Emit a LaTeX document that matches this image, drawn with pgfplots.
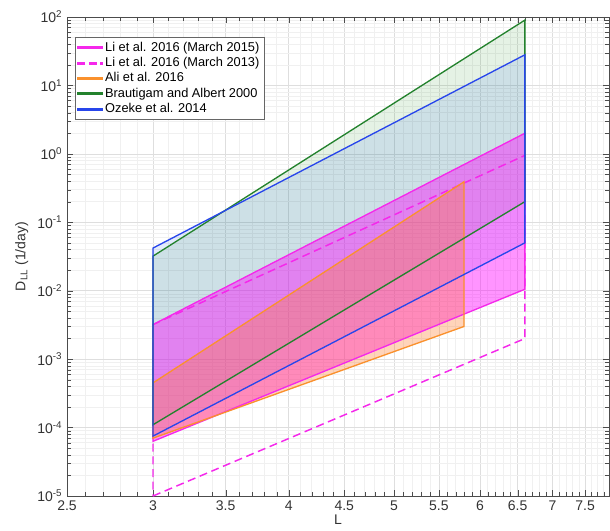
\documentclass[border=0pt]{standalone}
\usepackage{pgfplots}
\pgfplotsset{compat=1.18}
\usepackage{fontspec}
\setmainfont{Liberation Sans}
\definecolor{cmag}{RGB}{245,40,235}
\definecolor{cora}{RGB}{250,145,45}
\definecolor{cgre}{RGB}{35,130,45}
\definecolor{cblu}{RGB}{40,70,235}
\definecolor{fmag}{RGB}{255,0,255}
\definecolor{fora}{RGB}{255,120,40}
\definecolor{fgre}{RGB}{0,128,0}
\definecolor{fblu}{RGB}{70,120,235}
\begin{document}
\begin{tikzpicture}
\begin{loglogaxis}[
 scale only axis, width=406.5pt, height=359.25pt,
 xmin=2.5, xmax=7.89, ymin=1e-5, ymax=1e2,
 xtick={2.5,3,3.5,4,4.5,5,5.5,6,6.5,7,7.5},
 xticklabels={2.5,3,3.5,4,4.5,5,5.5,6,6.5,7,7.5},
 ytick={1e-5,1e-4,1e-3,1e-2,1e-1,1,10,100},
 yticklabels={10\textsuperscript{-5},10\textsuperscript{-4},10\textsuperscript{-3},10\textsuperscript{-2},10\textsuperscript{-1},10\textsuperscript{0},10\textsuperscript{1},10\textsuperscript{2}},
 minor xtick={2.6,2.7,2.8,2.9,3.1,3.2,3.3,3.4,3.6,3.7,3.8,3.9,4.1,4.2,4.3,4.4,4.6,4.7,4.8,4.9,5.1,5.2,5.3,5.4,5.6,5.7,5.8,5.9,6.1,6.2,6.3,6.4,6.6,6.7,6.8,6.9,7.1,7.2,7.3,7.4,7.6,7.7,7.8},
 minor ytick={2e-5,3e-5,4e-5,5e-5,6e-5,7e-5,8e-5,9e-5,2e-4,3e-4,4e-4,5e-4,6e-4,7e-4,8e-4,9e-4,2e-3,3e-3,4e-3,5e-3,6e-3,7e-3,8e-3,9e-3,2e-2,3e-2,4e-2,5e-2,6e-2,7e-2,8e-2,9e-2,0.2,0.3,0.4,0.5,0.6,0.7,0.8,0.9,2,3,4,5,6,7,8,9,20,30,40,50,60,70,80,90},
 grid=both,
 major grid style={draw=black!13},
 minor grid style={draw=black!6},
 tick style={black!70},
 axis line style={black!70},
 ticklabel style={font=\fontsize{10.5}{12}\selectfont, text=black!80},
 label style={font=\fontsize{10.5}{12}\selectfont, text=black!80},
 xlabel={L}, ylabel={D\textsubscript{LL} (1/day)},
 xlabel style={yshift=4pt},
 /pgf/number format/assume math mode=true,
 legend style={at={(0.0148,0.958)}, anchor=north west, font=\fontsize{9.6}{10}\selectfont, draw=black!60, fill=white, inner sep=1.5pt, row sep=-1pt},
 legend cell align=left,
]
\addlegendimage{legend image code/.code={\fill[cmag] (0cm,-0.7pt) rectangle (0.65cm,0.7pt);}}
\addlegendentry{Li et al. 2016 (March 2015)}
\addlegendimage{legend image code/.code={
   \fill[cmag] (0cm,-0.7pt) rectangle (0.18cm,0.7pt);
   \fill[cmag] (0.3cm,-0.7pt) rectangle (0.48cm,0.7pt);
   \fill[cmag] (0.6cm,-0.7pt) rectangle (0.65cm,0.7pt);}}
\addlegendentry{Li et al. 2016 (March 2013)}
\addlegendimage{legend image code/.code={\fill[cora] (0cm,-0.7pt) rectangle (0.65cm,0.7pt);}}
\addlegendentry{Ali et al. 2016}
\addlegendimage{legend image code/.code={\fill[cgre] (0cm,-0.7pt) rectangle (0.65cm,0.7pt);}}
\addlegendentry{Brautigam and Albert 2000}
\addlegendimage{legend image code/.code={\fill[cblu] (0cm,-0.75pt) rectangle (0.65cm,0.75pt);}}
\addlegendentry{Ozeke et al. 2014}

% ---- fills ----
% Brautigam and Albert 2000
\addplot[forget plot, draw=none, fill=fgre, fill opacity=0.1]
 coordinates {(3,1.1e-4) (6.6,0.2) (6.6,90) (3,0.032)} -- cycle;
% Ozeke 2014
\addplot[forget plot, draw=none, fill=fblu, fill opacity=0.15]
 coordinates {(3,7.5e-5) (6.6,0.05) (6.6,28) (3,0.042)} -- cycle;
% Li 2016 (March 2015)
\addplot[forget plot, draw=none, fill=fmag, fill opacity=0.42]
 coordinates {(3,6.3e-5) (6.6,0.0105) (6.6,2.0) (3,3.2e-3)} -- cycle;
% Ali 2016
\addplot[forget plot, draw=none, fill=fora, fill opacity=0.32]
 coordinates {(3,7e-5) (5.8,3e-3) (5.8,0.39) (3,4.5e-4)} -- cycle;

% ---- edges ----
\addplot[forget plot, draw=cmag, line width=1pt]
 coordinates {(3,6.3e-5) (6.6,0.0105) (6.6,2.0) (3,3.2e-3)} -- cycle;
\addplot[forget plot, draw=cmag, line width=1.1pt, dash pattern=on 6pt off 3.5pt]
 coordinates {(3,1e-5) (6.6,2e-3) (6.6,0.95) (3,3.2e-3)} -- cycle;
\addplot[forget plot, draw=cora, line width=1pt]
 coordinates {(3,7e-5) (5.8,3e-3) (5.8,0.39) (3,4.5e-4)} -- cycle;
\addplot[forget plot, draw=cgre, line width=1pt]
 coordinates {(3,1.1e-4) (6.6,0.2) (6.6,90) (3,0.032)} -- cycle;
\addplot[forget plot, draw=cblu, line width=1pt]
 coordinates {(3,7.5e-5) (6.6,0.05) (6.6,28) (3,0.042)} -- cycle;
\end{loglogaxis}
\path ([shift={(-50.25pt,-26.25pt)}]current axis.south west) rectangle ([shift={(0.75pt,12.75pt)}]current axis.north east);
\end{tikzpicture}
\end{document}
